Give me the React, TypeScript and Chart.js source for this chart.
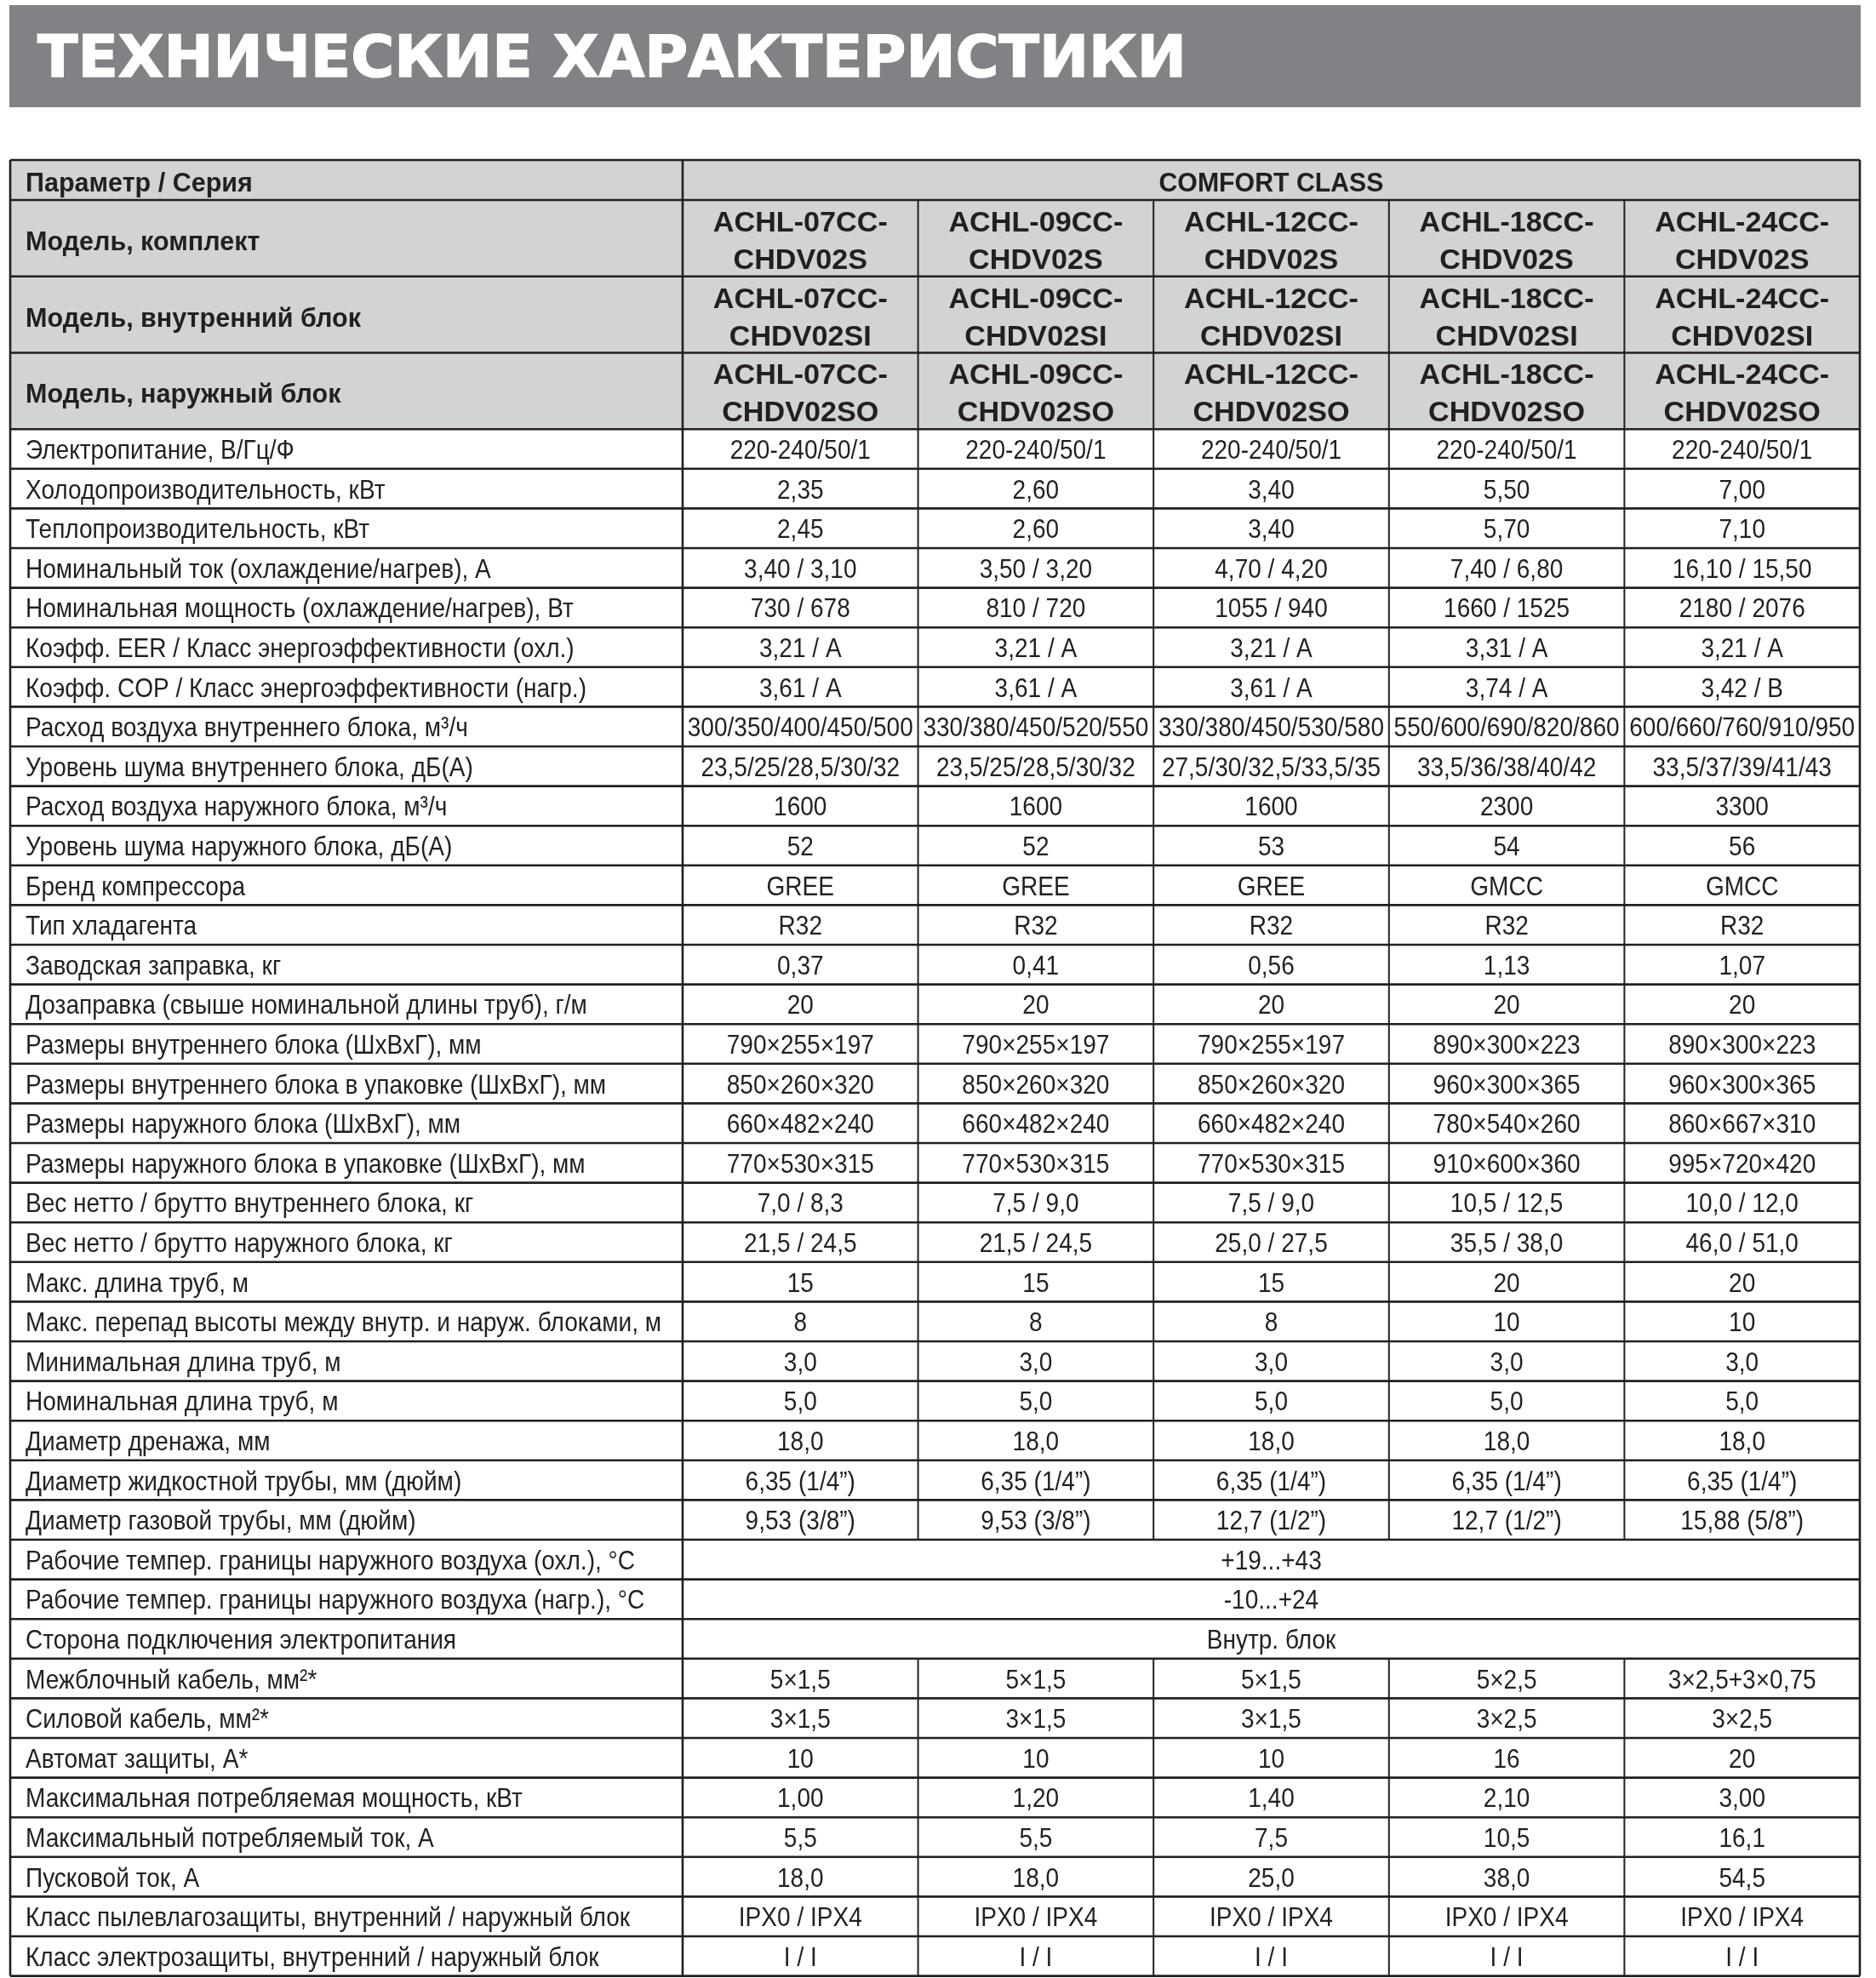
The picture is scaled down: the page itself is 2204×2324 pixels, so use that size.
import { useEffect, useRef } from "react";
import { Chart, registerables } from "chart.js";

Chart.register(...registerables);

// ---------------- DATA ----------------
const TITLE = "ТЕХНИЧЕСКИЕ ХАРАКТЕРИСТИКИ";
const HEADER_LABEL = "Параметр / Серия";
const SERIES_NAME = "COMFORT CLASS";

const MODEL_ROW_LABELS = ["Модель, комплект", "Модель, внутренний блок", "Модель, наружный блок"];
const MODEL_KIT = ["ACHL-07CC-|CHDV02S", "ACHL-09CC-|CHDV02S", "ACHL-12CC-|CHDV02S", "ACHL-18CC-|CHDV02S", "ACHL-24CC-|CHDV02S"];
const MODEL_INDOOR = ["ACHL-07CC-|CHDV02SI", "ACHL-09CC-|CHDV02SI", "ACHL-12CC-|CHDV02SI", "ACHL-18CC-|CHDV02SI", "ACHL-24CC-|CHDV02SI"];
const MODEL_OUTDOOR = ["ACHL-07CC-|CHDV02SO", "ACHL-09CC-|CHDV02SO", "ACHL-12CC-|CHDV02SO", "ACHL-18CC-|CHDV02SO", "ACHL-24CC-|CHDV02SO"];

const PARAMS = [
  "Электропитание, В/Гц/Ф",
  "Холодопроизводительность, кВт",
  "Теплопроизводительность, кВт",
  "Номинальный ток (охлаждение/нагрев), А",
  "Номинальная мощность (охлаждение/нагрев), Вт",
  "Коэфф. EER / Класс энергоэффективности (охл.)",
  "Коэфф. COP / Класс энергоэффективности (нагр.)",
  "Расход воздуха внутреннего блока, м³/ч",
  "Уровень шума внутреннего блока, дБ(А)",
  "Расход воздуха наружного блока, м³/ч",
  "Уровень шума наружного блока, дБ(А)",
  "Бренд компрессора",
  "Тип хладагента",
  "Заводская заправка, кг",
  "Дозаправка (свыше номинальной длины труб), г/м",
  "Размеры внутреннего блока (ШхВхГ), мм",
  "Размеры внутреннего блока в упаковке (ШхВхГ), мм",
  "Размеры наружного блока (ШхВхГ), мм",
  "Размеры наружного блока в упаковке (ШхВхГ), мм",
  "Вес нетто / брутто внутреннего блока, кг",
  "Вес нетто / брутто наружного блока, кг",
  "Макс. длина труб, м",
  "Макс. перепад высоты между внутр. и наруж. блоками, м",
  "Минимальная длина труб, м",
  "Номинальная длина труб, м",
  "Диаметр дренажа, мм",
  "Диаметр жидкостной трубы, мм (дюйм)",
  "Диаметр газовой трубы, мм (дюйм)",
  "Рабочие темпер. границы наружного воздуха (охл.), °C",
  "Рабочие темпер. границы наружного воздуха (нагр.), °C",
  "Сторона подключения электропитания",
  "Межблочный кабель, мм²*",
  "Силовой кабель, мм²*",
  "Автомат защиты, А*",
  "Максимальная потребляемая мощность, кВт",
  "Максимальный потребляемый ток, А",
  "Пусковой ток, А",
  "Класс пылевлагозащиты, внутренний / наружный блок",
  "Класс электрозащиты, внутренний / наружный блок",
];

// rows whose value spans all five model columns
const SPANNED_PARAMS = [
  "Рабочие темпер. границы наружного воздуха (охл.), °C",
  "Рабочие темпер. границы наружного воздуха (нагр.), °C",
  "Сторона подключения электропитания",
];

const COL_07 = [
  "220-240/50/1", "2,35", "2,45", "3,40 / 3,10", "730 / 678", "3,21 / A", "3,61 / A",
  "300/350/400/450/500", "23,5/25/28,5/30/32", "1600", "52", "GREE", "R32", "0,37", "20",
  "790×255×197", "850×260×320", "660×482×240", "770×530×315", "7,0 / 8,3", "21,5 / 24,5",
  "15", "8", "3,0", "5,0", "18,0", "6,35 (1/4”)", "9,53 (3/8”)",
  "+19...+43", "-10...+24", "Внутр. блок",
  "5×1,5", "3×1,5", "10", "1,00", "5,5", "18,0", "IPX0 / IPX4", "I / I",
];
const COL_09 = [
  "220-240/50/1", "2,60", "2,60", "3,50 / 3,20", "810 / 720", "3,21 / A", "3,61 / A",
  "330/380/450/520/550", "23,5/25/28,5/30/32", "1600", "52", "GREE", "R32", "0,41", "20",
  "790×255×197", "850×260×320", "660×482×240", "770×530×315", "7,5 / 9,0", "21,5 / 24,5",
  "15", "8", "3,0", "5,0", "18,0", "6,35 (1/4”)", "9,53 (3/8”)",
  "+19...+43", "-10...+24", "Внутр. блок",
  "5×1,5", "3×1,5", "10", "1,20", "5,5", "18,0", "IPX0 / IPX4", "I / I",
];
const COL_12 = [
  "220-240/50/1", "3,40", "3,40", "4,70 / 4,20", "1055 / 940", "3,21 / A", "3,61 / A",
  "330/380/450/530/580", "27,5/30/32,5/33,5/35", "1600", "53", "GREE", "R32", "0,56", "20",
  "790×255×197", "850×260×320", "660×482×240", "770×530×315", "7,5 / 9,0", "25,0 / 27,5",
  "15", "8", "3,0", "5,0", "18,0", "6,35 (1/4”)", "12,7 (1/2”)",
  "+19...+43", "-10...+24", "Внутр. блок",
  "5×1,5", "3×1,5", "10", "1,40", "7,5", "25,0", "IPX0 / IPX4", "I / I",
];
const COL_18 = [
  "220-240/50/1", "5,50", "5,70", "7,40 / 6,80", "1660 / 1525", "3,31 / A", "3,74 / A",
  "550/600/690/820/860", "33,5/36/38/40/42", "2300", "54", "GMCC", "R32", "1,13", "20",
  "890×300×223", "960×300×365", "780×540×260", "910×600×360", "10,5 / 12,5", "35,5 / 38,0",
  "20", "10", "3,0", "5,0", "18,0", "6,35 (1/4”)", "12,7 (1/2”)",
  "+19...+43", "-10...+24", "Внутр. блок",
  "5×2,5", "3×2,5", "16", "2,10", "10,5", "38,0", "IPX0 / IPX4", "I / I",
];
const COL_24 = [
  "220-240/50/1", "7,00", "7,10", "16,10 / 15,50", "2180 / 2076", "3,21 / A", "3,42 / B",
  "600/660/760/910/950", "33,5/37/39/41/43", "3300", "56", "GMCC", "R32", "1,07", "20",
  "890×300×223", "960×300×365", "860×667×310", "995×720×420", "10,0 / 12,0", "46,0 / 51,0",
  "20", "10", "3,0", "5,0", "18,0", "6,35 (1/4”)", "15,88 (5/8”)",
  "+19...+43", "-10...+24", "Внутр. блок",
  "3×2,5+3×0,75", "3×2,5", "20", "3,00", "16,1", "54,5", "IPX0 / IPX4", "I / I",
];

// ---------------- LAYOUT / STYLE ----------------
const CANVAS_W = 2204;
const CANVAS_H = 2324;
const PARAM_COL_UNITS = 2.856; // width of parameter column relative to a model column
const HEADER_ROW_UNITS = 1.01;
const MODEL_ROW_UNITS = 1.925;
const INK = "#231f20";
const HEAD_FILL = "#d1d3d4";
const TITLE_FILL = "#808285";
const FONT_FAMILY = '"Liberation Sans", Arial, Helvetica, sans-serif';

function drawText(ctx: CanvasRenderingContext2D, text: string, x: number, y: number, font: string, sx: number, align: CanvasTextAlign, maxW?: number) {
  ctx.save();
  ctx.font = font;
  ctx.textAlign = align;
  ctx.textBaseline = "alphabetic";
  let s = sx;
  if (maxW) {
    const w = ctx.measureText(text).width * s;
    if (w > maxW) s = s * (maxW / w);
  }
  ctx.translate(x, y);
  ctx.scale(s, 1);
  ctx.fillText(text, 0, 0);
  ctx.restore();
}

function fitScale(ctx: CanvasRenderingContext2D, font: string, sample: string, targetW: number) {
  ctx.save();
  ctx.font = font;
  const w = ctx.measureText(sample).width;
  ctx.restore();
  return targetW / w;
}

const tablePlugin = {
  id: "specTable",
  afterDraw(chart: any) {
    const ctx: CanvasRenderingContext2D = chart.ctx;
    const xs = chart.scales.x;
    const ys = chart.scales.y;
    const columns = [COL_07, COL_09, COL_12, COL_18, COL_24];
    const modelRows = [MODEL_KIT, MODEL_INDOOR, MODEL_OUTDOOR];

    const colUnits = [PARAM_COL_UNITS, ...columns.map(() => 1)];
    const colEdges = [0];
    colUnits.forEach((u) => colEdges.push(colEdges[colEdges.length - 1] + u));
    const px = colEdges.map((v) => xs.getPixelForValue(v));

    const rowUnits = [HEADER_ROW_UNITS, ...modelRows.map(() => MODEL_ROW_UNITS), ...PARAMS.map(() => 1)];
    const rowEdges = [0];
    rowUnits.forEach((u) => rowEdges.push(rowEdges[rowEdges.length - 1] + u));
    const py = rowEdges.map((v) => ys.getPixelForValue(v));

    ctx.save();
    // ---- title bar
    ctx.fillStyle = TITLE_FILL;
    ctx.fillRect(11, 6, 2186 - 11, 120);
    ctx.fillStyle = "#ffffff";
    const titleFont = `bold 68px "DejaVu Sans", ${FONT_FAMILY}`;
    const tScale = fitScale(ctx, titleFont, TITLE, 1350);
    drawText(ctx, TITLE, 44, 90, titleFont, tScale, "left");
    ctx.save();
    ctx.strokeStyle = "#ffffff";
    ctx.lineWidth = 1.5;
    ctx.font = titleFont;
    ctx.translate(44, 90);
    ctx.scale(tScale, 1);
    ctx.strokeText(TITLE, 0, 0);
    ctx.restore();

    // ---- header fills
    ctx.fillStyle = HEAD_FILL;
    ctx.fillRect(px[0], py[0], px[px.length - 1] - px[0], py[4] - py[0]);

    // ---- fonts & calibration
    const regSize = 32;
    const regFont = `${regSize}px ${FONT_FAMILY}`;
    const regScale = fitScale(ctx, regFont, "Макс. перепад высоты между внутр. и наруж. блоками, м", 747);
    const regCap = regSize * 0.716;
    const boldSize = 31;
    const boldFont = `bold ${boldSize}px ${FONT_FAMILY}`;
    const boldScale = fitScale(ctx, boldFont, "Модель, внутренний блок", 394);
    const boldCap = boldSize * 0.716;
    const seriesScale = fitScale(ctx, boldFont, SERIES_NAME, 264);
    const modelSize = 33.5;
    const modelFont = `bold ${modelSize}px ${FONT_FAMILY}`;
    const modelScale = fitScale(ctx, modelFont, "ACHL-07CC-", 205);
    const modelCap = modelSize * 0.716;
    const labelX = px[0] + 18;

    ctx.fillStyle = INK;
    // header row
    {
      const cy = (py[0] + py[1]) / 2;
      drawText(ctx, HEADER_LABEL, labelX, cy + boldCap / 2 + 2, boldFont, boldScale, "left");
      drawText(ctx, SERIES_NAME, (px[1] + px[6]) / 2, cy + boldCap / 2 + 2, boldFont, seriesScale, "center");
    }
    // model rows
    modelRows.forEach((arr, i) => {
      const top = py[1 + i];
      const bot = py[2 + i];
      const cy = (top + bot) / 2;
      drawText(ctx, MODEL_ROW_LABELS[i], labelX, cy + boldCap / 2 + 3, boldFont, boldScale, "left");
      arr.forEach((txt, c) => {
        const cx = (px[1 + c] + px[2 + c]) / 2;
        const [l1, l2] = txt.split("|");
        drawText(ctx, l1, cx, cy - 20 + modelCap / 2, modelFont, modelScale, "center");
        drawText(ctx, l2, cx, cy + 24 + modelCap / 2, modelFont, modelScale, "center");
      });
    });
    // data rows
    PARAMS.forEach((label, r) => {
      const top = py[4 + r];
      const bot = py[5 + r];
      const cy = (top + bot) / 2;
      const base = cy + regCap / 2;
      drawText(ctx, label, labelX, base, regFont, regScale, "left");
      if (SPANNED_PARAMS.includes(label)) {
        drawText(ctx, columns[0][r], (px[1] + px[6]) / 2, base, regFont, regScale, "center");
      } else {
        columns.forEach((col, c) => {
          const cx = (px[1 + c] + px[2 + c]) / 2;
          drawText(ctx, col[r], cx, base, regFont, regScale, "center", px[2 + c] - px[1 + c] - 8);
        });
      }
    });

    // ---- grid lines
    ctx.strokeStyle = INK;
    ctx.lineCap = "butt";
    ctx.lineWidth = 2.6;
    py.forEach((y) => {
      ctx.beginPath();
      ctx.moveTo(px[0], y);
      ctx.lineTo(px[px.length - 1], y);
      ctx.stroke();
    });
    // outer + first divider
    ctx.lineWidth = 2.6;
    [px[0], px[1], px[px.length - 1]].forEach((x) => {
      ctx.beginPath();
      ctx.moveTo(x, py[0]);
      ctx.lineTo(x, py[py.length - 1]);
      ctx.stroke();
    });
    // inner dividers between model columns
    ctx.lineWidth = 2;
    for (let c = 2; c < px.length - 1; c++) {
      for (let r = 1; r < py.length - 1; r++) {
        const paramIdx = r - 4;
        if (paramIdx >= 0 && SPANNED_PARAMS.includes(PARAMS[paramIdx])) continue;
        ctx.beginPath();
        ctx.moveTo(px[c], py[r]);
        ctx.lineTo(px[c], py[r + 1]);
        ctx.stroke();
      }
    }
    ctx.restore();
  },
};

export default function App() {
  const canvasRef = useRef<HTMLCanvasElement | null>(null);

  useEffect(() => {
    const canvas = canvasRef.current;
    if (!canvas) return;
    const columns = [COL_07, COL_09, COL_12, COL_18, COL_24];
    const totalX = PARAM_COL_UNITS + columns.length;
    const totalY = HEADER_ROW_UNITS + 3 * MODEL_ROW_UNITS + PARAMS.length;
    const chart = new Chart(canvas, {
      type: "scatter",
      data: { datasets: [] },
      options: {
        animation: false,
        responsive: false,
        devicePixelRatio: 1,
        events: [],
        layout: { padding: { left: 12, right: 19, top: 188, bottom: 2.4 } },
        plugins: { legend: { display: false }, tooltip: { enabled: false }, title: { display: false } },
        scales: {
          x: { type: "linear", min: 0, max: totalX, display: false },
          y: { type: "linear", min: 0, max: totalY, reverse: true, display: false },
        },
      },
      plugins: [tablePlugin],
    } as any);
    return () => chart.destroy();
  }, []);

  return (
    <div style={{ position: "absolute", left: 0, top: 0, width: CANVAS_W, height: CANVAS_H, background: "#ffffff" }}>
      <canvas ref={canvasRef} width={CANVAS_W} height={CANVAS_H} style={{ display: "block", width: CANVAS_W, height: CANVAS_H }} />
    </div>
  );
}
